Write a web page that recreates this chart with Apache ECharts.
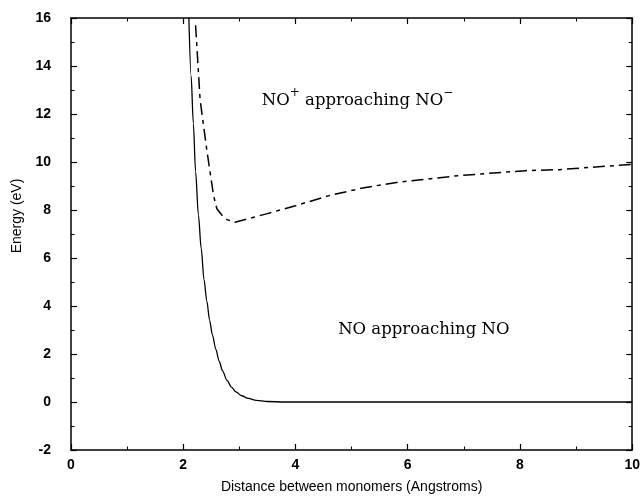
<!DOCTYPE html>
<html>
<head>
<meta charset="utf-8">
<script src="https://cdn.jsdelivr.net/npm/echarts@6/dist/echarts.min.js"></script>
<style>html,body{margin:0;padding:0;background:#fff;}#c{width:643px;height:497px;}</style>
</head>
<body>
<div id="c"></div>
<script>
// NO approaching NO (solid)
const neutralX = [2.10, 2.14, 2.18, 2.22, 2.27, 2.32, 2.37, 2.42, 2.47, 2.52, 2.58, 2.64, 2.70, 2.78, 2.86, 2.94, 3.04, 3.16, 3.30, 3.50, 3.80, 4.2, 5, 6, 7, 8, 9, 10];
const neutralE = [16.0, 13.6, 11.6, 9.6, 7.8, 6.4, 5.1, 4.2, 3.4, 2.8, 2.2, 1.7, 1.3, 0.9, 0.62, 0.42, 0.26, 0.15, 0.07, 0.02, 0.0, 0.0, 0, 0, 0, 0, 0, 0];
// NO+ approaching NO- (dash-dot)
const ionX = [2.22, 2.30, 2.42, 2.54, 2.60, 2.70, 2.78, 2.92, 3.5, 4.0, 4.6, 5.2, 5.8, 6.9, 8.1, 8.7, 9.4, 10];
const ionE = [15.7, 12.6, 10.5, 8.6, 8.05, 7.75, 7.6, 7.49, 7.85, 8.18, 8.6, 8.92, 9.15, 9.43, 9.64, 9.68, 9.8, 9.9];
const xTicks = [0, 2, 4, 6, 8, 10];
const yTicks = [-2, 0, 2, 4, 6, 8, 10, 12, 14, 16];
const xTitle = 'Distance between monomers (Angstroms)';
const yTitle = 'Energy (eV)';

const pairs = (xs, ys) => xs.map((x, i) => [x, ys[i]]);
const chart = echarts.init(document.getElementById('c'));
const sans = 'Liberation Sans';
const axisBase = {
  type: 'value',
  axisLine: { show: true, onZero: false, lineStyle: { color: '#000', width: 1.5 } },
  axisTick: { show: true, inside: true, length: 6, lineStyle: { color: '#000', width: 1.2 } },
  minorTick: { show: true, splitNumber: 2, length: 3.5, lineStyle: { color: '#000', width: 1 } },
  splitLine: { show: false },
};
chart.setOption({
  animation: false,
  grid: { left: 71, right: 10, top: 18, bottom: 47 },
  xAxis: [
    Object.assign({}, axisBase, {
      min: xTicks[0], max: xTicks[xTicks.length - 1], interval: 2, position: 'bottom',
      axisLabel: { color: '#000', fontFamily: sans, fontSize: 14, fontWeight: 'bold', margin: 8 },
    }),
    Object.assign({}, axisBase, {
      min: xTicks[0], max: xTicks[xTicks.length - 1], interval: 2, position: 'top',
      axisLabel: { show: false },
    }),
  ],
  yAxis: [
    Object.assign({}, axisBase, {
      min: yTicks[0], max: yTicks[yTicks.length - 1], interval: 2, position: 'left',
      axisLabel: { color: '#000', fontFamily: sans, fontSize: 14, fontWeight: 'bold', margin: 20 },
    }),
    Object.assign({}, axisBase, {
      min: yTicks[0], max: yTicks[yTicks.length - 1], interval: 2, position: 'right',
      axisLabel: { show: false },
    }),
  ],
  series: [
    {
      type: 'line', data: pairs(neutralX, neutralE), showSymbol: false, smooth: 0.3, smoothMonotone: 'x',
      lineStyle: { color: '#000', width: 1.3 }, clip: true,
    },
    {
      type: 'line', data: pairs(ionX, ionE), showSymbol: false, smooth: false,
      lineStyle: { color: '#000', width: 1.5, type: [12, 5, 4, 5] }, clip: true,
    },
  ],
});

function place() {
  const p1 = chart.convertToPixel({ xAxisIndex: 0, yAxisIndex: 0 }, [3.4, 12.67]);
  const p2 = chart.convertToPixel({ xAxisIndex: 0, yAxisIndex: 0 }, [4.76, 3.0]);
  const leftX = chart.convertToPixel({ xAxisIndex: 0 }, 0);
  const rightX = chart.convertToPixel({ xAxisIndex: 0 }, 10);
  const serif = 'DejaVu Serif';
  chart.setOption({
    graphic: [
      {
        type: 'text', x: p1[0], y: p1[1],
        style: {
          text: '{n|NO}{s|+}{n| approaching NO}{s|−}',
          verticalAlign: 'middle', align: 'left',
          rich: {
            n: { fontFamily: serif, fontSize: 16.5, fill: '#000', lineHeight: 22, verticalAlign: 'bottom' },
            s: { fontFamily: serif, fontSize: 12, fill: '#000', lineHeight: 22, verticalAlign: 'top' },
          },
        },
      },
      {
        type: 'text', x: p2[0], y: p2[1],
        style: { text: 'NO approaching NO', fontFamily: serif, fontSize: 16.5, fill: '#000', verticalAlign: 'middle', align: 'left' },
      },
      {
        type: 'text', x: (leftX + rightX) / 2, y: 487,
        style: { text: xTitle, fontFamily: sans, fontSize: 14, fill: '#000', align: 'center', verticalAlign: 'middle' },
      },
      {
        type: 'text', x: 17.5, y: 216, rotation: Math.PI / 2,
        style: { text: yTitle, fontFamily: sans, fontSize: 14, fill: '#000', align: 'center', verticalAlign: 'middle' },
      },
    ],
  });
}
place();
</script>
</body>
</html>
